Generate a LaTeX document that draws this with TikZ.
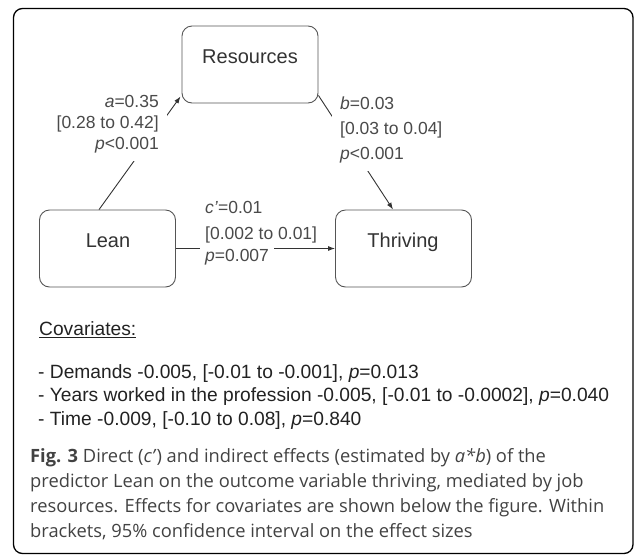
\documentclass[tikz,border=0pt]{standalone}
\usepackage{fontspec}
\setmainfont{Liberation Sans}
\newfontfamily\capfont{Open Sans}
\usetikzlibrary{arrows.meta,calc}
\definecolor{boxline}{HTML}{555555}
\definecolor{lbl}{HTML}{4A4A4A}
\definecolor{boxtxt}{HTML}{333333}
\definecolor{covtxt}{HTML}{222222}
\definecolor{captxt}{HTML}{424242}
\begin{document}
\begin{tikzpicture}[x=1pt,y=-1pt,
  vbox/.style={draw=boxline, line width=0.9pt, rounded corners=10pt, minimum width=136pt, minimum height=77pt, inner sep=0pt},
  boxlabel/.style={text=boxtxt, font=\fontsize{20}{24}\selectfont, inner sep=0pt},
  edgelbl/.style={text=lbl, font=\fontsize{17.5}{21}\selectfont, inner sep=8pt, fill=white},
  plainlbl/.style={text=lbl, font=\fontsize{17.5}{26}\selectfont, inner sep=0pt},
  conn/.style={draw=boxtxt, line width=0.9pt, -{Latex[length=7pt,width=5pt]}},
  covstyle/.style={text=covtxt, font=\fontsize{19.2}{23.5}\selectfont, inner sep=0pt},
]
\useasboundingbox (0,0) rectangle (634,555);
\draw[line width=1.3pt, rounded corners=9pt] (13.5,8.5) rectangle (633,553.5);

\node[vbox] (res) at (250,64.5) {};
\node[vbox] (lean) at (107.5,248.5) {};
\node[vbox] (thr) at (403.5,248.5) {};
\node[boxlabel] (rest) at (250,57) {Resources};
\node[boxlabel] (leant) at (108,241) {Lean};
\node[boxlabel] (thrt) at (403,242) {Thriving};

\draw[conn] ($(lean.north west)+(60,0)$) -- ($(res.south west)+(-1,-7)$);
\draw[conn] ($(res.south east)+(0,-8)$) -- ($(thr.north west)+(58,0)$);
\draw[conn] (lean.east) -- (thr.west);

\node[edgelbl, anchor=east, align=right] (la) at (167,124) {\textit{a}=0.35\\{[}0.28 to 0.42{]}\\\textit{p}<0.001};
\node[edgelbl, anchor=west, align=left, font=\fontsize{17.5}{25}\selectfont] (lb) at (332,130) {\textit{b}=0.03\\{[}0.03 to 0.04{]}\\\textit{p}<0.001};
\node[plainlbl, anchor=west, align=left] (lc) at (205,222) {\textit{c'}=0.01\\{[}0.002 to 0.01{]}};
\node[plainlbl, anchor=west, fill=white, inner xsep=5pt, inner ysep=2pt] (lp) at (200,257) {\textit{p}=0.007};

\node[covstyle, anchor=west] (cov) at (39,330) {\underline{Covariates:}};
\node[covstyle, anchor=west, align=left] (covl) at (38,397) {- Demands -0.005, {[}-0.01 to -0.001{]}, \textit{p}=0.013\\- Years worked in the profession -0.005, {[}-0.01 to -0.0002{]}, \textit{p}=0.040\\- Time -0.009, {[}-0.10 to 0.08{]}, \textit{p}=0.840};

\node[anchor=west, align=left, inner sep=0pt, font=\capfont\fontsize{18.3}{25}\selectfont, text=captxt] (cap) at (30,494.5) {\textbf{Fig. 3} Direct (\textit{c’}) and indirect effects (estimated by \textit{a*b}) of the\\predictor Lean on the outcome variable thriving, mediated by job\\resources. Effects for covariates are shown below the figure. Within\\brackets, 95\% confidence interval on the effect sizes};
\end{tikzpicture}
\end{document}
